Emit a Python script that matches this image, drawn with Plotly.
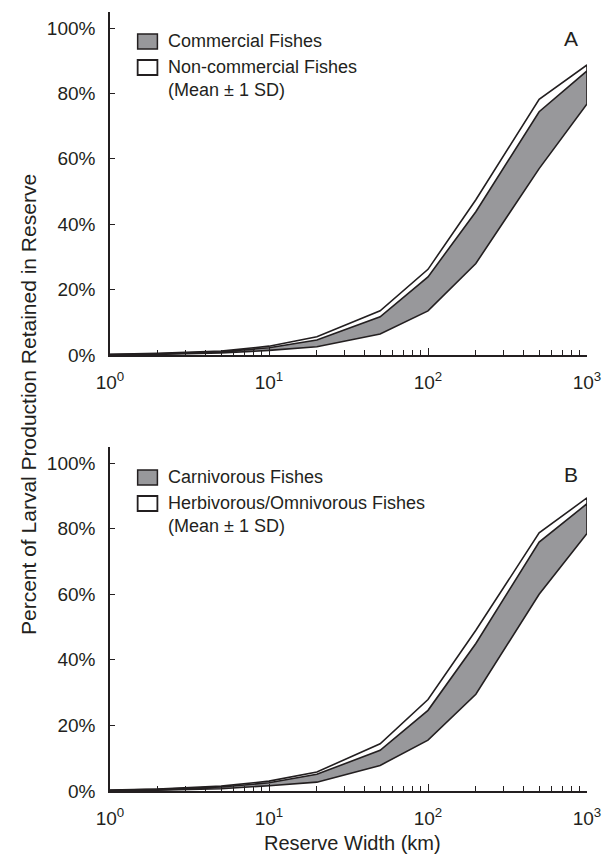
import plotly.graph_objects as go

# ---------------- data ----------------
widths_km = [1, 2, 5, 10, 20, 50, 100, 200, 500, 1000]

# Panel A
commercial_upper = [0.15, 0.4, 1.0, 2.2, 4.6, 11.7, 23.9, 43.8, 74.4, 86.9]
commercial_lower = [0.05, 0.2, 0.6, 1.4, 2.5, 6.4, 13.5, 28.0, 57.0, 76.8]
noncommercial_upper = [0.2, 0.5, 1.2, 2.7, 5.6, 13.5, 26.2, 47.5, 78.2, 88.7]
noncommercial_lower = [0.12, 0.35, 0.9, 2.0, 4.2, 11.0, 22.5, 41.5, 72.5, 85.5]

# Panel B
carnivorous_upper = [0.2, 0.5, 1.2, 2.5, 5.1, 12.4, 24.6, 45.0, 75.9, 87.6]
carnivorous_lower = [0.1, 0.25, 0.7, 1.6, 2.7, 7.8, 15.5, 29.5, 60.0, 78.5]
herbivorous_upper = [0.3, 0.6, 1.5, 3.0, 5.8, 14.4, 27.9, 49.0, 78.7, 89.4]
herbivorous_lower = [0.15, 0.4, 1.0, 2.2, 4.6, 11.5, 23.0, 43.0, 74.0, 86.0]

x_tickvals = [1, 10, 100, 1000]
x_ticktext = ["10<sup>0</sup>", "10<sup>1</sup>", "10<sup>2</sup>", "10<sup>3</sup>"]
x_minor = [m * d for d in (1, 10, 100) for m in range(2, 10)]
y_tickvals = [0, 20, 40, 60, 80, 100]
y_ticktext = ["0%", "20%", "40%", "60%", "80%", "100%"]

legend_A = ["Commercial Fishes", "Non-commercial Fishes", "(Mean \u00b1 1 SD)"]
legend_B = ["Carnivorous Fishes", "Herbivorous/Omnivorous Fishes", "(Mean \u00b1 1 SD)"]

# ---------------- style ----------------
FONT = "Liberation Sans, Arial, Helvetica, sans-serif"
INK = "#231f20"
GRAY = "#98989b"
W, H = 613, 863
ML, MR, MT, MB = 110, 20, 12, 72
PW, PH = W - ML - MR, H - MT - MB


def px(xp):
    return (xp - ML) / PW


def py(yp):
    return (H - MB - yp) / PH


fig = go.Figure()


def band(upper, lower, fill, xa, ya):
    fig.add_trace(go.Scatter(
        x=widths_km + widths_km[::-1],
        y=upper + lower[::-1],
        fill="toself", fillcolor=fill, mode="lines",
        line=dict(color=INK, width=1.6),
        xaxis=xa, yaxis=ya, showlegend=False, hoverinfo="skip",
    ))


band(noncommercial_upper, noncommercial_lower, "white", "x", "y")
band(commercial_upper, commercial_lower, GRAY, "x", "y")
band(herbivorous_upper, herbivorous_lower, "white", "x2", "y2")
band(carnivorous_upper, carnivorous_lower, GRAY, "x2", "y2")

xaxis_common = dict(
    type="log", range=[0, 3], showline=True, linecolor=INK, linewidth=1.5,
    ticks="inside", ticklen=7, tickwidth=1.2, tickcolor=INK,
    tickmode="array", tickvals=x_tickvals, ticktext=x_ticktext,
    minor=dict(tickmode="array", tickvals=x_minor, ticks="inside",
               ticklen=5, tickwidth=1.2, tickcolor=INK, showgrid=False),
    showgrid=False, zeroline=False, ticklabelstandoff=9,
    tickfont=dict(family=FONT, size=19, color=INK),
    layer="above traces",
)
yaxis_common = dict(
    range=[0, 104.9], showline=True, linecolor=INK, linewidth=1.5,
    ticks="inside", ticklen=5, tickwidth=1.2, tickcolor=INK,
    tickmode="array", tickvals=y_tickvals, ticktext=y_ticktext,
    showgrid=False, zeroline=False, ticklabelstandoff=9,
    tickfont=dict(family=FONT, size=19, color=INK),
    layer="above traces",
)

a_bottom, a_top = py(355), py(12)
b_bottom, b_top = py(791), py(447)

fig.update_layout(
    width=W, height=H,
    margin=dict(l=ML, r=MR, t=MT, b=MB),
    paper_bgcolor="white", plot_bgcolor="white",
    font=dict(family=FONT, color=INK),
    xaxis=dict(xaxis_common, domain=[0, 1], anchor="y"),
    yaxis=dict(yaxis_common, domain=[a_bottom, a_top], anchor="x"),
    xaxis2=dict(xaxis_common, domain=[0, 1], anchor="y2"),
    yaxis2=dict(yaxis_common, domain=[b_bottom, b_top], anchor="x2"),
)

shapes = []
annots = []


def legend(labels, y0):
    # gray box, white box
    shapes.append(dict(type="rect", xref="paper", yref="paper",
                       x0=px(138), x1=px(158), y0=py(y0 + 8), y1=py(y0 - 7),
                       fillcolor=GRAY, line=dict(color=INK, width=1.5)))
    shapes.append(dict(type="rect", xref="paper", yref="paper",
                       x0=px(138), x1=px(158), y0=py(y0 + 34), y1=py(y0 + 19),
                       fillcolor="white", line=dict(color=INK, width=1.8)))
    for lab, dy in zip(labels, (0, 26, 49)):
        annots.append(dict(text=lab, xref="paper", yref="paper",
                           x=px(167), y=py(y0 + dy), xanchor="left", yanchor="middle",
                           showarrow=False, font=dict(family=FONT, size=18, color=INK)))


legend(legend_A, 41)
legend(legend_B, 477)

annots.append(dict(text="A", xref="paper", yref="paper", x=px(577), y=py(39),
                   showarrow=False, xanchor="center", yanchor="middle",
                   font=dict(family=FONT, size=21, color=INK)))
annots.append(dict(text="B", xref="paper", yref="paper", x=px(577), y=py(474),
                   showarrow=False, xanchor="center", yanchor="middle",
                   font=dict(family=FONT, size=21, color=INK)))
annots.append(dict(text="Percent of Larval Production Retained in Reserve",
                   xref="paper", yref="paper", x=px(27), y=py(405), textangle=-90,
                   showarrow=False, xanchor="center", yanchor="middle",
                   font=dict(family=FONT, size=21, color=INK)))
annots.append(dict(text="Reserve Width (km)", xref="paper", yref="paper",
                   x=px(356), y=py(843), showarrow=False,
                   xanchor="center", yanchor="middle",
                   font=dict(family=FONT, size=20, color=INK)))

fig.update_layout(shapes=shapes, annotations=annots)
fig.write_html("out.html")
